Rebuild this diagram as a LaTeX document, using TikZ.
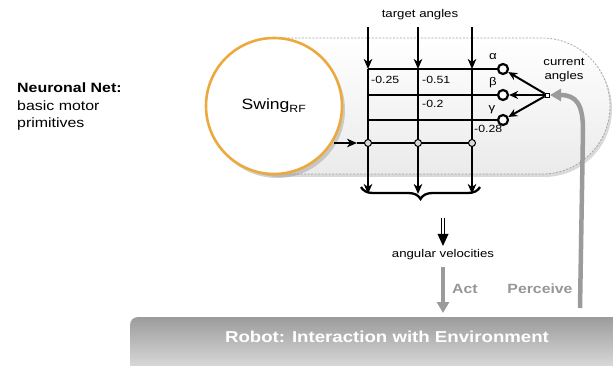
\documentclass[tikz,border=0pt]{standalone}
\usepackage{fontspec}
\setmainfont{Liberation Sans}[FakeStretch=1.18]
\usetikzlibrary{arrows.meta,shadows,decorations.pathreplacing,calc}
\definecolor{orng}{RGB}{236,170,62}
\definecolor{gtxt}{RGB}{150,150,150}
\definecolor{garr}{RGB}{155,155,155}
\newcommand{\fs}[1]{\fontsize{#1}{#1}\selectfont}
\begin{document}
\begin{tikzpicture}[x=1pt,y=-1pt,
  wire/.style={line width=2.3pt},
  arr/.style={-{Stealth[length=10pt,width=8.5pt,inset=3pt]}},
  sarr/.style={-{Stealth[length=9pt,width=8pt,inset=3pt]}},
  ocirc/.style={circle,draw,line width=2.2pt,fill=white,minimum size=10pt,inner sep=0pt},
  gdot/.style={circle,draw,line width=1pt,fill=gray!30,minimum size=7pt,inner sep=0pt},
  lbl/.style={inner sep=0pt,font=\fs{11.2}},
  wlbl/.style={inner sep=0pt,anchor=west,font=\fs{10.4}},
  gray arrow/.style={draw=garr,line width=4.5pt,-{Triangle[length=11pt,width=12pt]}},
  glbl/.style={inner sep=0pt,text=gtxt,font=\bfseries\fs{13.4}}]
\useasboundingbox (0,0) rectangle (613,366);

% background pill
\path[rounded corners=68pt,top color=white,bottom color=gray!16,draw=gray!70,
      dash pattern=on 2pt off 1.5pt,line width=0.8pt,
      drop shadow={opacity=0.3,shadow xshift=2pt,shadow yshift=-3pt}]
  (210,38) rectangle (610,174);

% robot bar
\path[rounded corners=8pt,top color=gray!78,bottom color=gray!8]
  (130,317) rectangle (640,390);
\node[inner sep=0pt,text=white,font=\bfseries\fs{15.8}] (robot) at (387,337) {Robot: Interaction with Environment};

% swing circle
\node[circle,draw=orng,line width=2.6pt,fill=white,minimum size=136pt,inner sep=0pt,
      drop shadow={opacity=0.35,shadow xshift=3pt,shadow yshift=-4pt},font=\fs{14.9}]
  (swing) at (274,106) {Swing\textsubscript{RF}};

% left text
\node[anchor=west,align=left,inner sep=0pt,font=\fs{13.5}] (nn) at (17,107)
  {\textbf{Neuronal Net:}\\[4pt]basic motor\\[4pt]primitives};

% grid coordinates
\foreach \i/\x in {1/368,2/418,3/472}{
  \coordinate (t\i) at (\x,27);
  \coordinate (m\i) at (\x,69);
  \coordinate (b\i) at (\x,194);
  \coordinate (d\i) at (\x,143);
}
\coordinate (r2) at (368,95);
\coordinate (r3) at (368,120);
\coordinate (in) at (334,143);
\coordinate (inm) at (357,143);

\node[ocirc] (ca) at (503,69) {};
\node[ocirc] (cb) at (503,95) {};
\node[ocirc] (cc) at (503,120) {};

\draw[wire] (m1) -- (ca);
\draw[wire] (r2) -- (cb);
\draw[wire] (r3) -- (cc);
\draw[wire,arr] (in) -- (inm);
\draw[wire] (inm) -- (d3);

\foreach \i in {1,2,3}{
  \draw[wire,arr] (t\i) -- (m\i);
  \draw[wire,arr] (m\i) -- (b\i);
}
\foreach \i in {1,2,3}{ \node[gdot] (dot\i) at (d\i) {}; }

% labels
\node[lbl] (ta) at (420,15) {target angles};
\node[wlbl] (w1) at (371,80) {-0.25};
\node[wlbl] (w2) at (422,80) {-0.51};
\node[wlbl] (w3) at (422,104) {-0.2};
\node[wlbl] (w4) at (474,129) {-0.28};
\node[lbl] (ga) at (493,57) {α};
\node[lbl] (gb) at (493,83) {β};
\node[lbl] (gc) at (492,110) {γ};
\node[lbl,align=center] (cur) at (564,70) {current\\[2pt]angles};

% current angles source
\node[draw,fill=white,line width=0.8pt,minimum size=4pt,inner sep=0pt] (src) at (547,95) {};
\draw[line width=2pt,sarr] (src) -- (ca);
\draw[line width=2pt,sarr] (src) -- (cb);
\draw[line width=2pt,sarr] (src) -- (cc);

% brace
\draw[line width=2.3pt,decorate,decoration={brace,amplitude=12pt,mirror}] (361,187) -- (480,187);

% double arrow
\coordinate (da) at (443,218);
\coordinate (db) at (443,234);
\coordinate (dc) at (443,246);
\draw[double,double distance=2.6pt,line width=1pt] (da) -- (db);
\fill ($(db)+(-5.5,0)$) -- (dc) -- ($(db)+(5.5,0)$) -- cycle;
\node[lbl] (av) at (443,255) {angular velocities};

% act / perceive
\coordinate (acta) at (443,267);
\coordinate (actb) at (443,313);
\draw[gray arrow] (acta) -- (actb);
\node[glbl,anchor=west] (act) at (452,289) {Act};
\coordinate (pa) at (580,308);
\coordinate (pb) at (583,130);
\coordinate (pc) at (550,95);
\draw[gray arrow] (pa) -- (pb) .. controls (583,104) and (576,95) .. (pc);
\node[glbl] (perc) at (540,289) {Perceive};
\end{tikzpicture}
\end{document}
